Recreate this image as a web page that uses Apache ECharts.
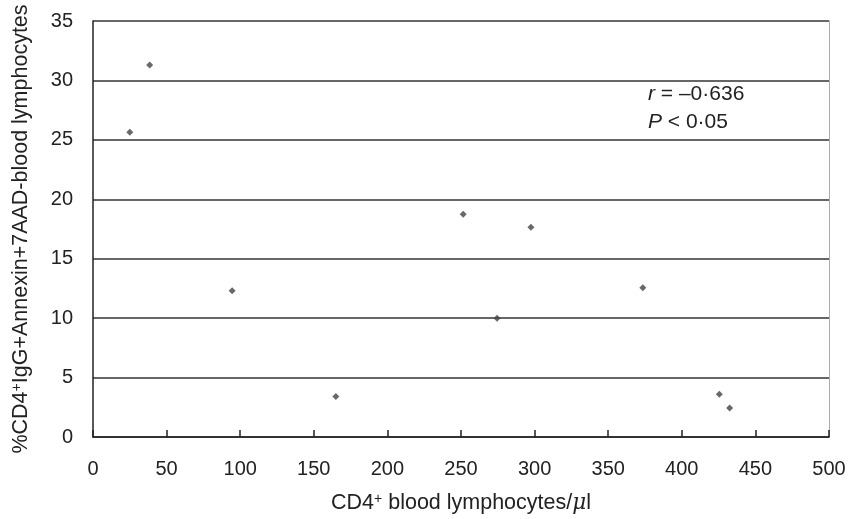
<!DOCTYPE html>
<html>
<head>
<meta charset="utf-8">
<script src="https://cdn.jsdelivr.net/npm/echarts@6/dist/echarts.min.js"></script>
<style>html,body{margin:0;padding:0;background:#fff}#c{width:850px;height:519px}</style>
</head>
<body>
<div id="c"></div>
<script>
// Data
var cd4Counts = [25, 38.5, 94.5, 165, 251.5, 274.5, 297.5, 373.5, 425.5, 432.5];
var apoptoticPct = [25.65, 31.3, 12.3, 3.4, 18.75, 10.0, 17.65, 12.55, 3.6, 2.45];
var xTicks = [0, 50, 100, 150, 200, 250, 300, 350, 400, 450, 500];
var yTicks = [0, 5, 10, 15, 20, 25, 30, 35];

var points = cd4Counts.map(function (x, i) { return [x, apoptoticPct[i]]; });
var font = 'Liberation Sans, Arial, sans-serif';
var fs = 20;
var tfs = 21.5;

var chart = echarts.init(document.getElementById('c'));
chart.setOption({
  backgroundColor: '#fff',
  animation: false,
  grid: { left: 93, right: 21, top: 21, bottom: 80 },
  xAxis: {
    type: 'value', min: xTicks[0], max: xTicks[xTicks.length - 1], interval: 50,
    axisLine: { show: true, onZero: false, lineStyle: { color: '#222', width: 1.5 } },
    axisTick: { show: true, inside: true, length: 7, lineStyle: { color: '#222', width: 1.5 } },
    axisLabel: { color: '#222', fontSize: fs, fontFamily: font, margin: 22 },
    splitLine: { show: false },
    name: '{t|CD4}{sup|+}{t| blood lymphocytes/}{it|\u03bc}{t|l}',
    nameLocation: 'middle', nameGap: 55,
    nameTextStyle: {
      rich: {
        t: { fontSize: tfs, fontFamily: font, color: '#222' },
        sup: { fontSize: 14, fontFamily: font, color: '#222', verticalAlign: 'top', padding: [0, 0, 7, 0] },
        it: { fontSize: tfs, fontFamily: 'DejaVu Serif, serif', fontStyle: 'italic', color: '#222' }
      }
    }
  },
  yAxis: [{
    type: 'value', min: yTicks[0], max: yTicks[yTicks.length - 1], interval: 5,
    axisLine: { show: true, lineStyle: { color: '#222', width: 1.5 } },
    axisTick: { show: false },
    axisLabel: { color: '#222', fontSize: fs, fontFamily: font, margin: 20 },
    splitLine: { show: true, lineStyle: { color: '#333', width: 1.5 } },
    name: '{t|%CD4}{sup|+}{t|IgG+Annexin+7AAD-blood lymphocytes}',
    nameLocation: 'middle', nameGap: 61, nameRotate: 90,
    nameTextStyle: {
      rich: {
        t: { fontSize: tfs, fontFamily: font, color: '#222' },
        sup: { fontSize: 14, fontFamily: font, color: '#222', verticalAlign: 'top', padding: [0, 0, 7, 0] }
      }
    }
  }, {
    type: 'value', position: 'right', min: 0, max: 35, interval: 5,
    axisLine: { show: true, lineStyle: { color: '#aaa', width: 1 } },
    axisTick: { show: false }, axisLabel: { show: false }, splitLine: { show: false }
  }],
  series: [{
    type: 'scatter',
    data: points,
    symbol: 'diamond',
    symbolSize: 7,
    itemStyle: { color: '#444' }
  }],
  graphic: [{
    type: 'text', left: 648, top: 84,
    style: {
      text: '{it|r}{t| = \u20130\u00b7636}\n{it|P}{t| < 0\u00b705}',
      rich: {
        t: { fontSize: 21, fontFamily: font, fill: '#222', lineHeight: 28 },
        it: { fontSize: 21, fontFamily: font, fontStyle: 'italic', fill: '#222', lineHeight: 28 }
      }
    }
  }]
});
</script>
</body>
</html>
